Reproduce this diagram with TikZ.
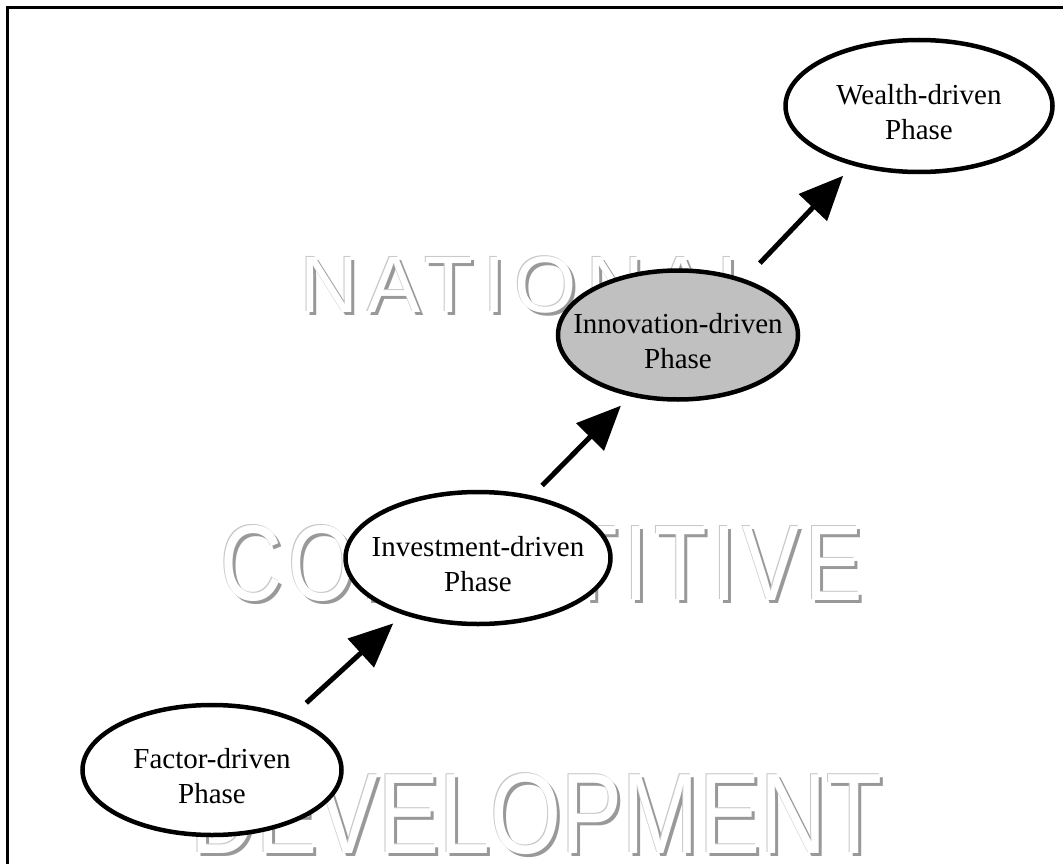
\documentclass[tikz,border=0pt]{standalone}
\usepackage{fontspec}
\usepackage{graphicx}
\setmainfont{Liberation Serif}
\newfontfamily\wmfont{Liberation Sans}
\usetikzlibrary{shapes.geometric,arrows.meta}
\tikzset{
  phase/.style={ellipse, draw=black, line width=4.5pt, fill=white,
    inner xsep=-40pt, inner ysep=0pt,
    align=center, font=\fontsize{29}{35}\selectfont},
  conn/.style={line width=5pt, -{Triangle[length=44pt,width=38pt]}},
  wmface/.style={text=white, inner sep=0pt, anchor=base west},
  wmshadow/.style={text=black!40, inner sep=0pt, anchor=base west},
  wmlight/.style={text=black!22, inner sep=0pt, anchor=base west},
}
\newcommand\tstrut{\rule{0pt}{32pt}}
% #1 name, #2 x, #3 baseline y, #4 size, #5 xscale, #6 letterspace, #7 text
\newcommand\wmword[7]{%
  \node[wmshadow] (#1s) at (#2+3,#3+3) {\scalebox{#5}[1]{\wmfont\fontsize{#4}{#4}\selectfont\addfontfeatures{LetterSpace=#6}#7}};
  \node[wmlight] (#1l) at (#2-1,#3-1) {\scalebox{#5}[1]{\wmfont\fontsize{#4}{#4}\selectfont\addfontfeatures{LetterSpace=#6}#7}};
  \node[wmface] (#1) at (#2,#3) {\scalebox{#5}[1]{\wmfont\fontsize{#4}{#4}\selectfont\addfontfeatures{LetterSpace=#6}#7}};
}
\begin{document}
\begin{tikzpicture}[x=1pt,y=-1pt]
\useasboundingbox (0,0) rectangle (1063,864);
\fill[white] (0,0) rectangle (1063,864);
% watermark
\wmword{nat}{300}{312}{80}{1}{12}{NATIONAL}
\wmword{comp}{220}{600}{107.5}{0.8}{7}{COMPETITIVE}
\wmword{dev}{190}{853}{114.5}{0.8}{0}{DEVELOPMENT}
% frame
\draw[line width=3pt] (7.5,864) -- (7.5,7.5) -- (1063,7.5);
% phases
\node[phase, minimum width=259pt, minimum height=130pt] (f) at (212,770) {\tstrut Factor-driven\\Phase};
\node[phase, minimum width=265pt, minimum height=132pt] (v) at (478,558) {\tstrut Investment-driven\\Phase};
\node[phase, fill={rgb,255:red,192;green,192;blue,192}, minimum width=240pt, minimum height=129pt] (n) at (678,335) {\tstrut Innovation-driven\\Phase};
\node[phase, minimum width=267pt, minimum height=132pt] (w) at (919,106) {\tstrut Wealth-driven\\Phase};
% arrows
\draw[conn, shorten <=20pt, shorten >=13pt] (f.34) -- (v.217);
\draw[conn, shorten <=14pt, shorten >=13pt] (v.49) -- (n.232);
\draw[conn, shorten <=22pt, shorten >=14pt] (n.40) -- (w.222);
\end{tikzpicture}
\end{document}
